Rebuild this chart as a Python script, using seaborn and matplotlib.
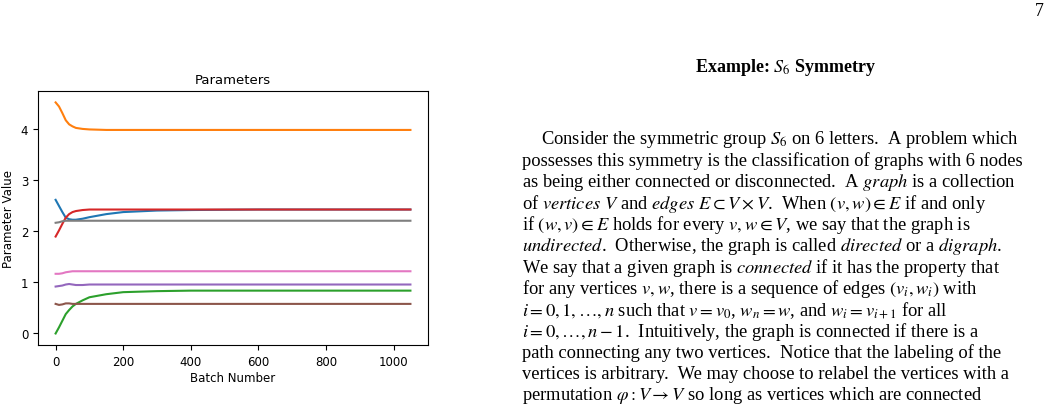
import matplotlib
matplotlib.use("Agg")
import matplotlib.pyplot as plt
import seaborn as sns
import pandas as pd

batch = [0, 10, 20, 30, 40, 50, 60, 80, 100, 150, 200, 300, 400, 600, 1050]
p0 = [2.62, 2.50, 2.38, 2.27, 2.24, 2.23, 2.23, 2.25, 2.28, 2.34, 2.38, 2.41, 2.42, 2.43, 2.43]
p1 = [4.53, 4.45, 4.32, 4.18, 4.10, 4.06, 4.03, 4.01, 4.00, 3.99, 3.99, 3.99, 3.99, 3.99, 3.99]
p2 = [0.00, 0.12, 0.25, 0.38, 0.46, 0.53, 0.58, 0.65, 0.71, 0.77, 0.81, 0.83, 0.84, 0.84, 0.84]
p3 = [1.90, 2.02, 2.15, 2.27, 2.34, 2.38, 2.40, 2.42, 2.43, 2.43, 2.43, 2.43, 2.43, 2.43, 2.43]
p4 = [0.92, 0.93, 0.94, 0.96, 0.97, 0.96, 0.95, 0.95, 0.96, 0.96, 0.96, 0.96, 0.96, 0.96, 0.96]
p5 = [0.58, 0.56, 0.57, 0.59, 0.59, 0.58, 0.58, 0.58, 0.58, 0.58, 0.58, 0.58, 0.58, 0.58, 0.58]
p6 = [1.17, 1.17, 1.18, 1.20, 1.21, 1.22, 1.22, 1.22, 1.22, 1.22, 1.22, 1.22, 1.22, 1.22, 1.22]
p7 = [2.17, 2.18, 2.20, 2.21, 2.21, 2.21, 2.21, 2.21, 2.21, 2.21, 2.21, 2.21, 2.21, 2.21, 2.21]
series = [p0, p1, p2, p3, p4, p5, p6, p7]

rows = []
for k, s in enumerate(series):
    for b, v in zip(batch, s):
        rows.append({"batch": b, "value": v, "param": f"p{k}"})
df = pd.DataFrame(rows)

plt.rcParams["mathtext.fontset"] = "stix"
fig = plt.figure(figsize=(10.52, 4.10), dpi=100)
ax = fig.add_axes([0.036, 0.156, 0.371, 0.620])
sns.lineplot(data=df, x="batch", y="value", hue="param",
             palette=sns.color_palette("tab10", 8), legend=False, ax=ax, linewidth=1.5)
ax.set_title("Parameters", fontsize=9.5)
ax.set_xlabel("Batch Number", fontsize=8.5, labelpad=2)
ax.set_ylabel("Parameter Value", fontsize=8.5)
ax.tick_params(labelsize=8.5)
ax.set_xticks([0, 200, 400, 600, 800, 1000])
ax.set_yticks([0, 1, 2, 3, 4])

serif = "Liberation Serif"
fig.text(1044/1052, 1-12/410, "7", ha="right", va="center", fontsize=13, family=serif)
fig.text(785/1052, 1-68/410, r"Example: $S_6$ Symmetry", ha="center", va="center",
         fontsize=13, family=serif, weight="bold")

lines = [
    (541, r"Consider the symmetric group $S_6$ on 6 letters.  A problem which"),
    (522, r"possesses this symmetry is the classification of graphs with 6 nodes"),
    (522, r"as being either connected or disconnected.  A $\mathit{graph}$ is a collection"),
    (522, r"of $\mathit{vertices}$ $V$ and $\mathit{edges}$ $E \subset V \times V$.  When $(v, w) \in E$ if and only"),
    (522, r"if $(w, v) \in E$ holds for every $v, w \in V$, we say that the graph is"),
    (522, r"$\mathit{undirected}$.  Otherwise, the graph is called $\mathit{directed}$ or a $\mathit{digraph}$."),
    (522, r"We say that a given graph is $\mathit{connected}$ if it has the property that"),
    (522, r"for any vertices $v, w$, there is a sequence of edges $(v_i, w_i)$ with"),
    (522, r"$i = 0, 1, \ldots, n$ such that $v = v_0$, $w_n = w$, and $w_i = v_{i+1}$ for all"),
    (522, r"$i = 0, \ldots, n - 1$.  Intuitively, the graph is connected if there is a"),
    (522, r"path connecting any two vertices.  Notice that the labeling of the"),
    (522, r"vertices is arbitrary.  We may choose to relabel the vertices with a"),
    (522, r"permutation $\varphi : V \rightarrow V$ so long as vertices which are connected"),
]
y0 = 140
for i, (x, t) in enumerate(lines):
    fig.text(x/1052, 1-(y0 + i*21.3)/410, t, ha="left", va="center",
             fontsize=13.3, family=serif)

fig.savefig("out.png", dpi=100)
